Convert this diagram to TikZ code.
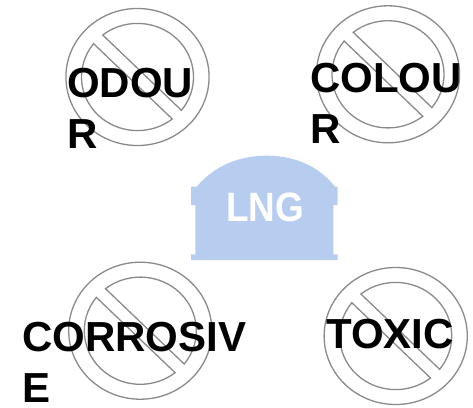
\documentclass[tikz,border=0pt]{standalone}
\usepackage{fontspec}
\setmainfont{Liberation Sans}
\definecolor{signgrey}{HTML}{8A8A8A}
\definecolor{tankblue}{HTML}{B7CDF0}
\tikzset{
  x=1pt,y=1pt,
  nosign/.pic={
    \draw[signgrey,line width=1.3pt] (0,0) circle[radius=68.5pt];
    \draw[signgrey,line width=1.3pt,line join=miter] (128.4:53.6pt) arc[start angle=128.4,end angle=-38.4,radius=53.6pt] -- cycle;
    \draw[signgrey,line width=1.3pt,line join=miter] (141.6:53.6pt) arc[start angle=141.6,end angle=308.4,radius=53.6pt] -- cycle;
  },
  hazard/.style={anchor=north west,inner sep=0pt,align=left,text=black,text depth=0pt,
    font=\fontsize{42}{51}\selectfont\bfseries},
  tanklabel/.style={text=white,inner sep=0pt,xscale=0.9,
    font=\fontsize{41}{41}\selectfont\bfseries}
}
\begin{document}
\begin{tikzpicture}
\useasboundingbox[fill=white] (0,-407) rectangle (473,0);
\pic[xscale=1.045] at (137.5,-77) {nosign};
\pic[xscale=1.045] at (388,-74.3) {nosign};
\pic[xscale=1.045] at (140.3,-330.7) {nosign};
\pic[xscale=1.045] at (395.7,-336) {nosign};
\fill[tankblue] (196.7,-186.7) .. controls (215,-165) and (240,-155.7) .. (266.7,-155.7)
  .. controls (293,-155.7) and (318,-165) .. (335,-186.7)
  -- (337.7,-186.7) -- (337.7,-205) -- (333.3,-205) -- (333.3,-254.3) -- (337.7,-254.3)
  -- (337.7,-260) -- (191,-260) -- (191,-254.3) -- (195.3,-254.3) -- (195.3,-205)
  -- (191,-205) -- (191,-186.7) -- cycle;
\node[tanklabel] (lng) at (265,-207) {LNG};
\node[hazard] (odour) at (67,-68) {ODOU\\R};
\node[hazard] (colour) at (310,-63) {COLOU\\R};
\node[hazard] (corrosive) at (22,-321.5) {CORROSIV\\E};
\node[hazard] (toxic) at (326,-319) {TOXIC};
\end{tikzpicture}
\end{document}
